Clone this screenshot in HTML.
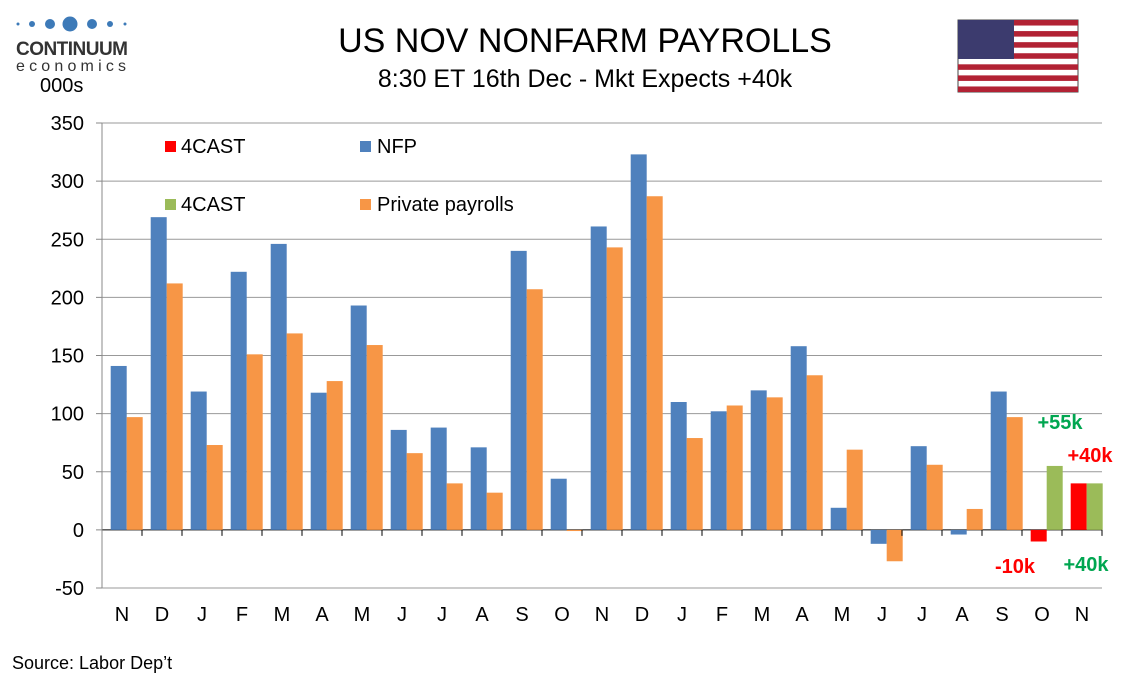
<!DOCTYPE html>
<html><head><meta charset="utf-8">
<style>
body{margin:0;background:#fff;font-family:"Liberation Sans",sans-serif;}
#wrap{position:relative;width:1134px;height:680px;overflow:hidden;}
</style></head>
<body>
<div id="wrap">
<svg id="chart" width="1134" height="680" xmlns="http://www.w3.org/2000/svg">
  <g>
    <circle cx="18" cy="24" r="1.5" fill="#3d7ab8"/><circle cx="32" cy="24" r="3" fill="#3d7ab8"/>
    <circle cx="50" cy="24" r="5" fill="#3d7ab8"/><circle cx="70" cy="24" r="7.5" fill="#3d7ab8"/>
    <circle cx="92" cy="24" r="5" fill="#3d7ab8"/><circle cx="110" cy="24" r="3" fill="#3d7ab8"/>
    <circle cx="125" cy="24" r="1.5" fill="#3d7ab8"/>
    <text x="16" y="55" font-size="19" font-weight="bold" fill="#333" textLength="112">CONTINUUM</text>
    <text x="16" y="71" font-size="16" fill="#333" textLength="112" letter-spacing="2">economics</text>
  </g>
  <text x="40" y="92" font-size="20" fill="#000">000s</text>
  <text x="585" y="52" font-size="34" text-anchor="middle" fill="#000">US NOV NONFARM PAYROLLS</text>
  <text x="585" y="87" font-size="25" text-anchor="middle" fill="#000">8:30 ET 16th Dec - Mkt Expects +40k</text>
  <g>
    <rect x="958" y="20" width="120" height="72" fill="#fff" stroke="#444"/>
    <g id="stripes"></g>
    <rect x="958" y="20" width="56" height="39" fill="#3c3b6e"/>
  </g>
  <g id="grid"></g><g id="bars"></g><g id="axes"></g>
  <g>
    <rect x="165" y="141" width="11" height="11" fill="#ff0000"/><text x="181" y="153" font-size="20">4CAST</text>
    <rect x="360" y="141" width="11" height="11" fill="#4f81bd"/><text x="377" y="153" font-size="20">NFP</text>
    <rect x="165" y="199" width="11" height="11" fill="#9bbb59"/><text x="181" y="211" font-size="20">4CAST</text>
    <rect x="360" y="199" width="11" height="11" fill="#f79646"/><text x="377" y="211" font-size="20">Private payrolls</text>
  </g>
  <text x="1060" y="429" font-size="20" font-weight="bold" fill="#00a650" text-anchor="middle">+55k</text>
  <text x="1090" y="462" font-size="20" font-weight="bold" fill="#ff0000" text-anchor="middle">+40k</text>
  <text x="1015" y="573" font-size="20" font-weight="bold" fill="#ff0000" text-anchor="middle">-10k</text>
  <text x="1086" y="571" font-size="20" font-weight="bold" fill="#00a650" text-anchor="middle">+40k</text>
  <text x="12" y="669" font-size="18">Source: Labor Dep’t</text>
</svg>
</div>
<script>
const categories=["N","D","J","F","M","A","M","J","J","A","S","O","N","D","J","F","M","A","M","J","J","A","S","O","N"];
const nfp=[141,269,119,222,246,118,193,86,88,71,240,44,261,323,110,102,120,158,19,-12,72,-4,119,null,null];
const priv=[97,212,73,151,169,128,159,66,40,32,207,-1,243,287,79,107,114,133,69,-27,56,18,97,null,null];
const red4cast=[null,null,null,null,null,null,null,null,null,null,null,null,null,null,null,null,null,null,null,null,null,null,null,-10,40];
const green4cast=[null,null,null,null,null,null,null,null,null,null,null,null,null,null,null,null,null,null,null,null,null,null,null,55,40];
const yTicks=[-50,0,50,100,150,200,250,300,350];
const NS="http://www.w3.org/2000/svg";
const X0=102,X1=1102,Y0=123,Y1=588,VMIN=-50,VMAX=350;
const bw=(X1-X0)/categories.length;
const y=v=>Y0+(VMAX-v)/(VMAX-VMIN)*(Y1-Y0);
const xc=i=>X0+bw*(i+0.5);
function mk(tag,attrs,parent){const e=document.createElementNS(NS,tag);for(const k in attrs)e.setAttribute(k,attrs[k]);parent.appendChild(e);return e;}
const st=document.getElementById('stripes');
for(let i=0;i<13;i++){if(i%2===0){mk('rect',{x:958,y:20+i*72/13,width:120,height:72/13,fill:'#b22234'},st);}}
const grid=document.getElementById('grid');
yTicks.forEach(t=>{
  const l=mk('line',{x1:X0,x2:X1,y1:y(t),y2:y(t),stroke:t===0?'#000':'#999','stroke-width':1},grid);
  
  
  const tx=mk('text',{x:X0-18,y:y(t)+7,'font-size':20,'text-anchor':'end'},grid);tx.textContent=t;
  
  
  mk('line',{x1:X0-6,x2:X0,y1:y(t),y2:y(t),stroke:'#888'},grid);
});
const ax=document.getElementById('axes');
mk('line',{x1:X0,x2:X0,y1:Y0,y2:Y1,stroke:'#888'},ax);
const bars=document.getElementById('bars');
const w=16;
function bar(i,v,off,color,name){
  if(v===null)return;
  const r=mk('rect',{x:X0+bw*i+off,y:Math.min(y(v),y(0)),width:w,height:Math.abs(y(v)-y(0)),fill:color},bars);
  
  
}
categories.forEach((c,i)=>{
  bar(i,nfp[i],8.7,'#4f81bd','bar-nfp');
  bar(i,priv[i],24.7,'#f79646','bar-private');
  bar(i,red4cast[i],8.7,'#ff0000','bar-4cast-red');
  bar(i,green4cast[i],24.7,'#9bbb59','bar-4cast-green');
  const t=mk('text',{x:xc(i),y:621,'font-size':20,'text-anchor':'middle'},ax);t.textContent=c;
  
  
  mk('line',{x1:X0+bw*(i+1),x2:X0+bw*(i+1),y1:y(0),y2:y(0)+6,stroke:'#000'},ax);
});
</script>
</body></html>
